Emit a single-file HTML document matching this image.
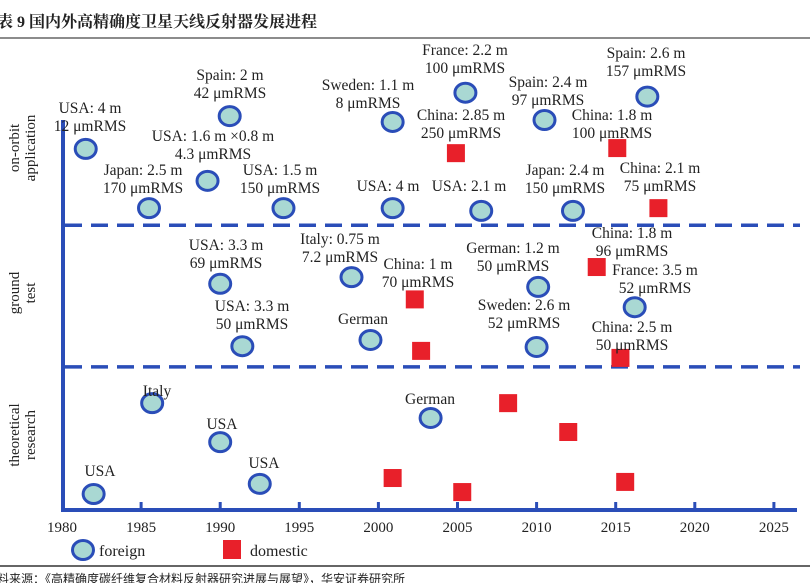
<!DOCTYPE html>
<html><head><meta charset="utf-8"><style>
html,body{margin:0;padding:0;background:#fff;}
svg{display:block;}
text{font-family:"Liberation Serif","Noto Serif CJK SC",serif;fill:#222;}
.cj{font-family:"Liberation Serif","Noto Serif CJK SC",serif;}
.cs{font-family:"Liberation Sans","Noto Sans CJK SC",sans-serif;}
</style></head><body>
<svg id="chart" width="810" height="583" viewBox="0 0 810 583">
<text class="cj" x="-3" y="27" font-size="16" font-weight="bold">表 9  国内外高精确度卫星天线反射器发展进程</text>
<line x1="0" y1="38" x2="810" y2="38" stroke="#666" stroke-width="1.5"/>
<line x1="0" y1="566" x2="810" y2="566" stroke="#333" stroke-width="1.5"/>
<text class="cs" x="-3" y="583" font-size="12" fill="#444">料来源：《高精确度碳纤维复合材料反射器研究进展与展望》，华安证券研究所</text>
<g id="axes"></g>
<g id="marks"></g>
<g id="labels"></g>
</svg>
<script>
const foreignYears=[1981.5,1990.6,1989.2,1985.5,1994.0,2000.9,2000.9,2005.5,2006.5,2010.5,2012.3,2017.0,1990.0,1998.3,1991.4,1999.5,2010.1,2016.2,2010.0,1985.7,1990.0,2003.3,1982.0,1992.5];
const foreignLevels=[92.6,101,84.4,77.4,77.4,99.5,77.4,107,76.7,100,76.7,106,58,59.7,42,43.6,57.2,52,41.8,27.4,17.4,23.6,4.1,6.7];
const domesticYears=[2004.9,2015.1,2017.7,2002.3,2002.7,2013.8,2015.3,2008.2,2012.0,2000.9,2005.3,2015.6];
const domesticLevels=[91.5,92.8,77.4,54,40.8,62.3,39,27.4,20,8.2,4.6,7.2];
const xTicks=[1980,1985,1990,1995,2000,2005,2010,2015,2020,2025];
const bandBounds=[73,36.7];
const NS='http://www.w3.org/2000/svg';
function xs(y){return 62+(y-1980)*15.82;}
function ys(v){return 510-v*3.9;}
function mk(tag,attrs,parent){const e=document.createElementNS(NS,tag);for(const k in attrs)e.setAttribute(k,attrs[k]);parent.appendChild(e);return e;}
const axes=document.getElementById('axes'),marks=document.getElementById('marks'),labels=document.getElementById('labels');
const blue='#2a4db8';
let l=mk('line',{x1:63,y1:120,x2:63,y2:512,stroke:blue,'stroke-width':4},axes);


l=mk('line',{x1:61,y1:510,x2:797,y2:510,stroke:blue,'stroke-width':4},axes);


bandBounds.forEach(b=>{
  const d=mk('line',{x1:65,y1:ys(b),x2:800,y2:ys(b),stroke:blue,'stroke-width':3.5,'stroke-dasharray':'17 9'},axes);
  
  
});
xTicks.forEach((t,i)=>{
  if(i>0){const tk=mk('line',{x1:xs(t),y1:502,x2:xs(t),y2:510,stroke:blue,'stroke-width':3},axes);
  
  }
  const tx=mk('text',{x:xs(t),y:532,'text-anchor':'middle','font-size':15},axes);
  tx.textContent=t;
  
  
});
foreignYears.forEach((y,i)=>{
  const c=mk('ellipse',{cx:xs(y),cy:ys(foreignLevels[i]),rx:10.5,ry:9.5,fill:'#a9d8d3',stroke:blue,'stroke-width':3},marks);
  
  
});
domesticYears.forEach((y,i)=>{
  const r=mk('rect',{x:xs(y)-9,y:ys(domesticLevels[i])-9,width:18,height:18,fill:'#e8202a'},marks);
  
  
});
const ann=[
[90,108,"USA: 4 m","12 μmRMS"],[230,75,"Spain: 2 m","42 μmRMS"],[213,136,"USA: 1.6 m ×0.8 m","4.3 μmRMS"],
[143,170,"Japan: 2.5 m","170 μmRMS"],[280,170,"USA: 1.5 m","150 μmRMS"],[368,85,"Sweden: 1.1 m","8 μmRMS"],
[388,186,"USA: 4 m",""],[465,50,"France: 2.2 m","100 μmRMS"],[461,115,"China: 2.85 m","250 μmRMS"],
[469,186,"USA: 2.1 m",""],[548,82,"Spain: 2.4 m","97 μmRMS"],[612,115,"China: 1.8 m","100 μmRMS"],
[565,170,"Japan: 2.4 m","150 μmRMS"],[646,53,"Spain: 2.6 m","157 μmRMS"],[660,168,"China: 2.1 m","75 μmRMS"],
[226,245,"USA: 3.3 m","69 μmRMS"],[340,239,"Italy: 0.75 m","7.2 μmRMS"],[418,264,"China: 1 m","70 μmRMS"],
[513,248,"German: 1.2 m","50 μmRMS"],[632,233,"China: 1.8 m","96 μmRMS"],[655,270,"France: 3.5 m","52 μmRMS"],
[252,306,"USA: 3.3 m","50 μmRMS"],[363,319,"German",""],[524,305,"Sweden: 2.6 m","52 μmRMS"],
[632,327,"China: 2.5 m","50 μmRMS"],[157,391,"Italy",""],[222,424,"USA",""],[430,399,"German",""],
[100,471,"USA",""],[264,463,"USA",""]];
ann.forEach(a=>{
  const t=mk('text',{x:a[0],y:a[1]+5,'text-anchor':'middle','font-size':15.5},labels);
  t.textContent=a[2];
  
  
  if(a[3]){const t2=mk('text',{x:a[0],y:a[1]+23,'text-anchor':'middle','font-size':15.5},labels);
  t2.textContent=a[3];
  
  }
});
[["on-orbit","application",148,"band-label-on-orbit"],["ground","test",293,"band-label-ground-test"],["theoretical","research",435,"band-label-theoretical"]].forEach(b=>{
  const g=mk('g',{transform:'translate(22,'+b[2]+') rotate(-90)'},labels);
  
  
  const t1=mk('text',{x:0,y:-3,'text-anchor':'middle','font-size':15},g);t1.textContent=b[0];
  const t2=mk('text',{x:0,y:13,'text-anchor':'middle','font-size':15},g);t2.textContent=b[1];
});
let lg=mk('ellipse',{cx:83,cy:550,rx:10.5,ry:9.5,fill:'#a9d8d3',stroke:blue,'stroke-width':3},labels);


lg=mk('text',{x:99,y:556,'font-size':16},labels);lg.textContent='foreign';


lg=mk('rect',{x:223,y:540,width:18,height:19,fill:'#e8202a'},labels);


lg=mk('text',{x:250,y:556,'font-size':16},labels);lg.textContent='domestic';


</script>
</body></html>
